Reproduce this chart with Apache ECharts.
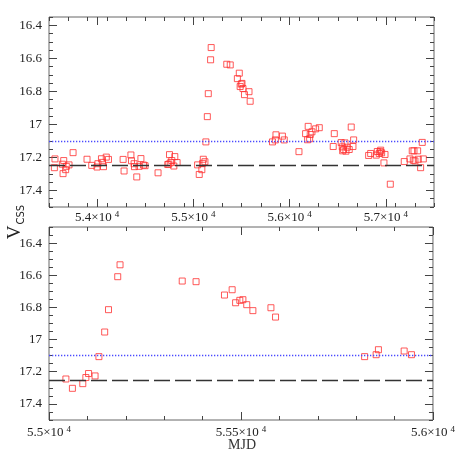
<!DOCTYPE html>
<html>
<head>
<meta charset="utf-8">
<script src="https://cdn.jsdelivr.net/npm/echarts@6/dist/echarts.min.js"></script>
<style>
  html, body { margin: 0; padding: 0; background: #fff; }
  #view { width: 458px; height: 458px; }
</style>
</head>
<body>
<div id="view"></div>
<script>
// light curve, MJD vs V(CSS)
var mjd = [
  53556, 53562, 53639, 53646, 53653, 53673, 53680, 53708, 53750, 53895,
  53944, 53999, 54008, 54045, 54055, 54066, 54095, 54118, 54270, 54280,
  54351, 54357, 54384, 54388, 54412, 54436, 54455, 54482, 54498,
  54633, 54734, 54745, 54752, 54765, 54776, 54797, 54807, 54831,
  55044, 55061, 55088, 55096, 55103, 55120, 55130, 55145, 55155, 55179,
  55185, 55347, 55383, 55457, 55477, 55486, 55497, 55505, 55515, 55531,
  55578, 55590, 55822, 55852, 55858, 55925, 55944,
  56097, 56166, 56187, 56193, 56208, 56214, 56232, 56270, 56308, 56453,
  56464, 56536, 56547, 56551, 56561, 56575, 56585, 56599, 56619, 56640,
  56658, 56665,
  56821, 56842, 56900, 56911, 56931, 56940, 56946, 56956, 56980, 56991,
  57046, 57191, 57250, 57274, 57285, 57292, 57302, 57330, 57337, 57361,
  57378, 57389
];
var vcss = [
  17.262, 17.209, 17.241, 17.298, 17.219, 17.274, 17.254, 17.245, 17.171, 17.211,
  17.248, 17.258, 17.238, 17.208, 17.230, 17.256, 17.198, 17.212, 17.212, 17.282,
  17.185, 17.220, 17.238, 17.256, 17.318, 17.254, 17.207, 17.246, 17.250,
  17.293, 17.243, 17.240, 17.183, 17.231, 17.219, 17.252, 17.195, 17.231,
  17.245, 17.303, 17.274, 17.236, 17.211, 17.226, 17.106, 16.953, 16.814, 16.609,
  16.535, 16.636, 16.640, 16.723, 16.690, 16.771, 16.756, 16.752, 16.783, 16.820,
  16.802, 16.860, 17.106, 17.094, 17.063, 17.071, 17.094,
  17.165, 17.056, 17.093, 17.012, 17.087, 17.061, 17.045, 17.027, 17.020, 17.134,
  17.056, 17.110, 17.136, 17.160, 17.152, 17.112, 17.162, 17.138, 17.152, 17.016,
  17.134, 17.094,
  17.188, 17.176, 17.186, 17.164, 17.176, 17.165, 17.156, 17.172, 17.233, 17.182,
  17.362, 17.225, 17.209, 17.160, 17.217, 17.160, 17.221, 17.160, 17.211, 17.262,
  17.109, 17.209
];

var quiescentMag = 17.25;
var thresholdMag = 17.1;

var topXTicks = [54000, 55000, 56000, 57000];
var botXTicks = [55000, 55500, 56000];
var magTicks = [16.4, 16.6, 16.8, 17, 17.2, 17.4];

var panels = [
  { xMin: 53500, xMax: 57500, xMajor: topXTicks, xStep: 200, yMin: 16.35, yMax: 17.5,
    rect: { left: 49, top: 17, width: 385, height: 190 }, labelMargin: 3 },
  { xMin: 55000, xMax: 56000, xMajor: botXTicks, xStep: 100, yMin: 16.3, yMax: 17.5,
    rect: { left: 49, top: 227, width: 385, height: 193 }, labelMargin: 5 }
];

function steps(lo, hi, step) {
  var out = [];
  var n = Math.round((hi - lo) / step);
  for (var i = 0; i <= n; i++) out.push(+(lo + i * step).toFixed(3));
  return out;
}

function sci(v) {
  var m = +(v / 10000).toFixed(2);
  return '{m|' + m + '×10}{e|4}';
}

var font = 'Liberation Serif';
var labelRich = {
  m: { fontFamily: font, fontSize: 13, color: '#222', lineHeight: 16 },
  e: { fontFamily: font, fontSize: 9, color: '#222', verticalAlign: 'top', padding: [0, 0, 0, 3], lineHeight: 16 }
};

var grids = [], xAxes = [], yAxes = [], series = [];

panels.forEach(function (p, g) {
  grids.push({ left: p.rect.left, top: p.rect.top, width: p.rect.width, height: p.rect.height,
    show: true, borderColor: '#666', borderWidth: 1, backgroundColor: 'transparent' });

  var xMinor = steps(p.xMin, p.xMax, p.xStep);
  var yMinor = steps(p.yMin, p.yMax, 0.05);

  ['bottom', 'top'].forEach(function (pos) {
    [true, false].forEach(function (major) {
      xAxes.push({
        type: 'value', gridIndex: g, position: pos, min: p.xMin, max: p.xMax,
        axisLine: { show: false }, splitLine: { show: false },
        axisTick: { show: true, inside: true, length: major ? 8 : 4,
          customValues: major ? p.xMajor : xMinor,
          lineStyle: { color: '#444', width: 1 } },
        axisLabel: {
          show: major && pos === 'bottom', customValues: p.xMajor, margin: p.labelMargin,
          formatter: sci, rich: labelRich, showMinLabel: true, showMaxLabel: true, hideOverlap: false
        }
      });
    });
  });

  ['left', 'right'].forEach(function (pos) {
    [true, false].forEach(function (major) {
      yAxes.push({
        type: 'value', gridIndex: g, position: pos, min: p.yMin, max: p.yMax, inverse: true,
        axisLine: { show: false }, splitLine: { show: false },
        axisTick: { show: true, inside: true, length: major ? 8 : 4,
          customValues: major ? magTicks : yMinor,
          lineStyle: { color: '#444', width: 1 } },
        axisLabel: {
          show: major && pos === 'left', customValues: magTicks, margin: 7,
          fontFamily: font, fontSize: 13, color: '#222'
        }
      });
    });
  });

  var pts = [];
  for (var i = 0; i < mjd.length; i++) {
    if (mjd[i] >= p.xMin && mjd[i] <= p.xMax) pts.push([mjd[i], vcss[i]]);
  }

  series.push({
    type: 'scatter', xAxisIndex: g * 4, yAxisIndex: g * 4, data: pts,
    symbol: 'rect', symbolSize: 6, clip: true, silent: true, z: 3,
    itemStyle: { color: 'rgba(0,0,0,0)', borderColor: '#ff3030', borderWidth: 1 },
    markLine: {
      silent: true, symbol: ['none', 'none'], label: { show: false }, animation: false,
      data: [
        { yAxis: quiescentMag, lineStyle: { color: '#333', width: 1.3, type: [16, 5] } },
        { yAxis: thresholdMag, lineStyle: { color: '#4a4aff', width: 1.3, type: [1.3, 1.7] } }
      ]
    }
  });
});

var myChart = echarts.init(document.getElementById('view'));
myChart.setOption({
  animation: false,
  grid: grids,
  xAxis: xAxes,
  yAxis: yAxes,
  series: series,
  graphic: [
    {
      type: 'text', x: 15, y: 222, rotation: Math.PI / 2,
      style: {
        text: '{v|V}{s|CSS}', align: 'center', verticalAlign: 'middle',
        rich: {
          v: { fontFamily: font, fontSize: 19, fill: '#222', lineHeight: 22 },
          s: { fontFamily: 'DejaVu Sans', fontSize: 10, fill: '#222', verticalAlign: 'bottom', lineHeight: 22, padding: [8, 0, 0, 1] }
        }
      }
    },
    {
      type: 'text', x: 242, y: 445,
      style: { text: 'MJD', align: 'center', verticalAlign: 'middle',
        fontFamily: font, fontSize: 14, fill: '#333' }
    }
  ]
});
</script>
</body>
</html>
